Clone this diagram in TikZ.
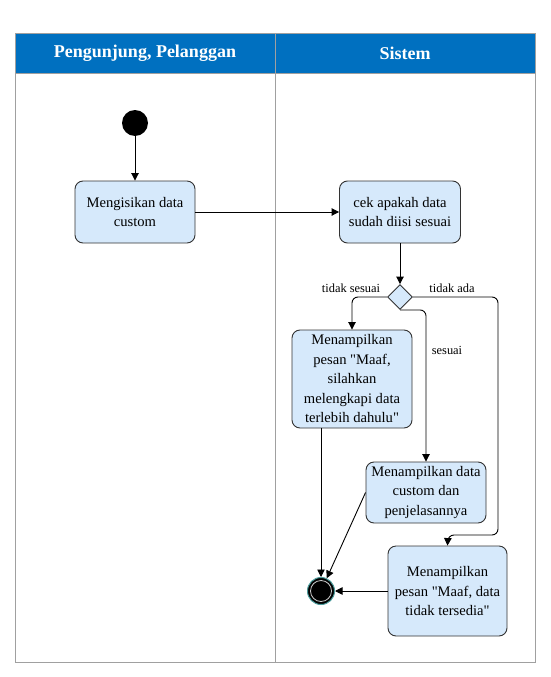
\documentclass[tikz,border=0pt]{standalone}
\usepackage{fontspec}
\setmainfont{Liberation Serif}
\usetikzlibrary{arrows.meta,positioning,shapes.geometric}
\font\qfnt="Liberation Serif" at 14.6pt
\newcommand\dq{{\qfnt\char34}}
\definecolor{hdr}{HTML}{0070C0}
\definecolor{boxfill}{HTML}{D6E9FB}
\definecolor{frame}{HTML}{A0A0A0}
\definecolor{ring}{HTML}{4A9A9A}
\tikzset{
  act/.style={draw=black!80, fill=boxfill, rounded corners=8pt, line width=0.9pt, align=center, font=\fontsize{14.6}{19.5}\selectfont, inner sep=0pt},
  flow/.style={draw=black, line width=0.9pt, -{Triangle[length=7.5pt,width=7.5pt]}, rounded corners=6pt},
  lbl/.style={font=\fontsize{12.4}{14}\selectfont, inner sep=0pt},
  hdrtxt/.style={text=white, font=\fontsize{18}{20}\selectfont\bfseries},
}
\begin{document}
\begin{tikzpicture}[x=1pt,y=-1pt]
\useasboundingbox (0,0) rectangle (550,677);
% swimlanes
\fill[hdr] (15,33) rectangle (535,73);
\draw[frame, line width=0.9pt] (15,33) rectangle (535,662);
\draw[frame, line width=0.9pt] (15,73) -- (535,73);
\draw[frame, line width=0.9pt] (275,33) -- (275,662);
\node[hdrtxt] (h1) at (145,53) {Pengunjung, Pelanggan};
\node[hdrtxt] (h2) at (405,53) {Sistem};
% nodes
\node[circle, fill=black, minimum size=26pt, inner sep=0pt] (start) at (135,123) {};
\node[act, minimum width=120pt, minimum height=62pt] (b1) at (135,212) {Mengisikan data\\custom};
\node[act, minimum width=121pt, minimum height=62pt] (b2) at (400,212) {cek apakah data\\sudah diisi sesuai};
\node[draw=black!80, fill=boxfill, line width=0.9pt, diamond, minimum width=25pt, minimum height=25pt, inner sep=0pt, shape aspect=1] (dia) at (400,297) {};
\node[act, minimum width=120pt, minimum height=98pt] (b3) at (352,379) {Menampilkan\\pesan \dq Maaf,\\silahkan\\melengkapi data\\terlebih dahulu\dq};
\node[act, minimum width=120pt, minimum height=61pt] (b4) at (426,492.5) {Menampilkan data\\custom dan\\penjelasannya};
\node[act, minimum width=119pt, minimum height=90pt] (b5) at (447.5,591) {Menampilkan\\pesan \dq Maaf, data\\tidak tersedia\dq};
\node[circle, fill=black, draw=ring, line width=1pt, minimum size=27pt, inner sep=0pt] (end) at (321,591) {};
\draw[gray!40, line width=0.8pt] (end.center) circle (10.5pt);
\coordinate (c1) at (498,297);
\coordinate (c2) at (498,535);
\coordinate (c3) at (448,535);
% labels
\node[lbl] (l1) at (351,288) {tidak sesuai};
\node[lbl] (l2) at (452,288) {tidak ada};
\node[lbl] (l3) at (447,350) {sesuai};
% edges
\draw[flow] (start) -- (b1);
\draw[flow] (b1) -- (b2);
\draw[flow] (b2) -- (dia);
\draw[flow] (dia.west) -| (b3.north);
\draw[flow] (dia.south) -| (b4.north);
\draw[flow] (dia.east) -- (c1) -- (c2) -- (c3) -- (b5.north);
\draw[flow] (b3.south -| end) -- (end);
\draw[flow] (b4.west) -- (end);
\draw[flow] (b5) -- (end);
\end{tikzpicture}
\end{document}
